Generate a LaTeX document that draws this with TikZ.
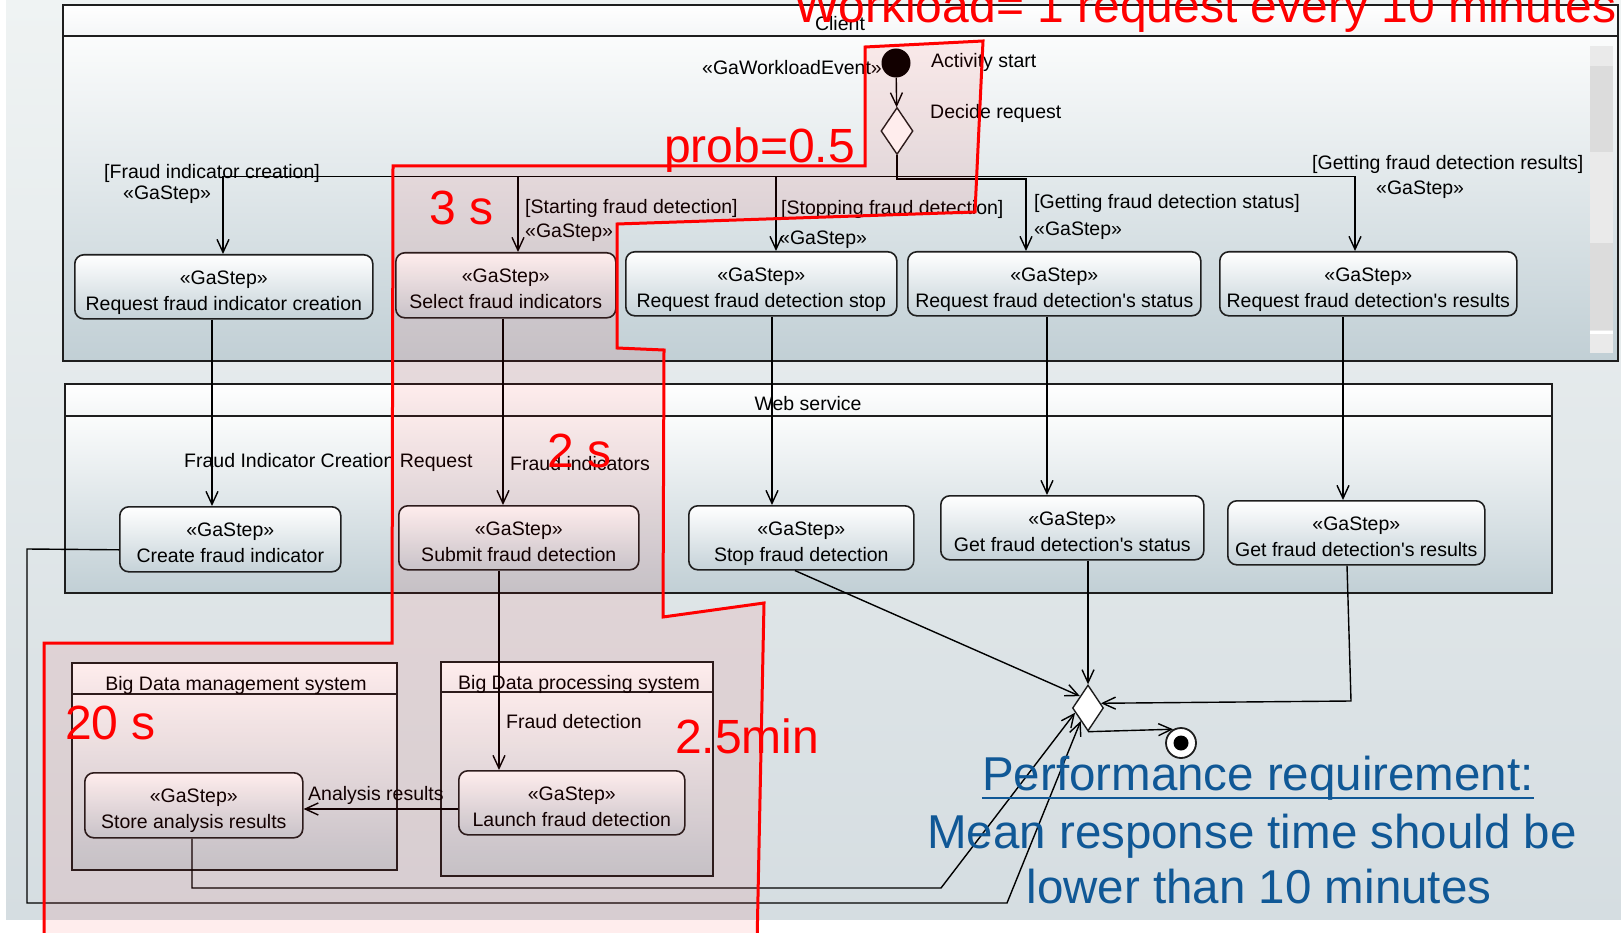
\documentclass[tikz,border=0pt]{standalone}
\usepackage{fontspec}
\setmainfont{Liberation Sans}[Ligatures=TeXOff]
\usetikzlibrary{arrows.meta,shapes.geometric,calc}

\definecolor{bgtop}{RGB}{239,243,243}
\definecolor{bgbot}{RGB}{213,221,225}
\definecolor{laneTop}{RGB}{251,252,252}
\definecolor{laneBot}{RGB}{193,207,213}
\definecolor{headBot}{RGB}{244,246,247}
\definecolor{boxBot}{RGB}{197,210,216}
\definecolor{edgeDark}{RGB}{30,30,30}
\definecolor{reqblue}{RGB}{16,88,150}
\definecolor{barA}{RGB}{234,234,234}
\definecolor{barB}{RGB}{220,220,220}

\tikzset{
  lbl/.style={inner sep=0pt, font=\fontsize{19.5}{23}\selectfont, text height=14pt, text depth=0pt},
  gbox/.style={draw=edgeDark, line width=1.6pt, rounded corners=9pt,
    top color=white, bottom color=boxBot, inner sep=0pt},
  lanehead/.style={draw=edgeDark, line width=1.6pt, top color=white, bottom color=headBot},
  lanebody/.style={draw=edgeDark, line width=1.6pt, top color=laneTop, bottom color=laneBot},
  conn/.style={draw=black, line width=1.4pt},
  arr/.style={conn, -{Straight Barb[length=13pt,width=12pt]}},
  bigred/.style={inner sep=0pt, text=red, font=\fontsize{48}{56}\selectfont},
  bigblue/.style={inner sep=0pt, text=reqblue, font=\fontsize{47.5}{56}\selectfont},
}

% an action box with the <<GaStep>> stereotype: name, left, top, right, bottom, title
\newcommand\gastepnode[6]{%
  \node[gbox, minimum width=#4-#2, minimum height=#5-#3, anchor=north west] (#1) at (#2,#3) {};
  \node[lbl] (#1-st) at ([yshift=-23.5pt]#1.north) {«GaStep»};
  \node[lbl] (#1-tx) at ([yshift=-49.5pt]#1.north) {#6};
}

\begin{document}
\begin{tikzpicture}[x=1pt,y=-1pt]
\useasboundingbox (0,0) rectangle (1621,933);
\clip (0,0) rectangle (1621,933);

% canvas
\fill[white] (0,0) rectangle (1621,933);
\shade[top color=bgtop, bottom color=bgbot] (6,0) rectangle (1621,919);

% partitions
\path[lanebody] (63,36) rectangle (1618,361);
\path[lanehead] (63,5) rectangle (1618,36);
\node[lbl] (clientlbl) at (840,24) {Client};

\fill[barA] (1590,46) rectangle (1613,353);
\fill[barB] (1590,66) rectangle (1613,152);
\fill[barB] (1590,243) rectangle (1613,330);
\fill[white] (1590,331) rectangle (1613,334);

\path[lanebody] (65,416) rectangle (1552,593);
\path[lanehead] (65,384) rectangle (1552,416);
\node[lbl] (weblbl) at (808,403) {Web service};

\path[lanebody] (72,694) rectangle (397,870);
\path[lanehead] (72,663) rectangle (397,694);
\node[lbl] (bdmlbl) at (236,683) {Big Data management system};

\path[lanebody] (441,692) rectangle (713,876);
\path[lanehead] (441,662) rectangle (713,692);
\node[lbl] (bdplbl) at (579,682) {Big Data processing system};

% initial node and decision
\node[circle, fill=black, minimum size=29pt, inner sep=0pt] (start) at (896,63) {};
\node[diamond, draw=edgeDark, fill=white, line width=1.4pt, minimum width=32pt, minimum height=47pt, inner sep=0pt] (dec) at (897,131) {};
\node[lbl, anchor=east] (wle) at (882,68) {«GaWorkloadEvent»};
\node[lbl, anchor=west] (actstart) at (931,61) {Activity start};
\node[lbl, anchor=west] (decreq) at (930,112) {Decide request};
\draw[arr] (start) -- (dec);

% client actions
\gastepnode{b1}{74}{254}{372}{318}{Request fraud indicator creation}
\gastepnode{b2}{395}{252}{615}{317}{Select fraud indicators}
\gastepnode{b3}{625}{251}{896}{315}{Request fraud detection stop}
\gastepnode{b4}{907}{251}{1200}{315}{Request fraud detection's status}
\gastepnode{b5}{1219}{251}{1516}{315}{Request fraud detection's results}

% web service actions
\gastepnode{w1}{119}{506}{340}{571}{Create fraud indicator}
\gastepnode{w2}{398}{505}{638}{569}{Submit fraud detection}
\gastepnode{w3}{688}{505}{913}{569}{Stop fraud detection}
\gastepnode{w4}{940}{495}{1203}{559}{Get fraud detection's status}
\gastepnode{w5}{1227}{500}{1484}{564}{Get fraud detection's results}

% big data actions
\gastepnode{st}{84}{772}{302}{837}{Store analysis results}
\gastepnode{la}{458}{770}{684}{834}{Launch fraud detection}

% merge and final nodes
\node[diamond, draw=edgeDark, fill=white, line width=1.4pt, minimum width=31pt, minimum height=46pt, inner sep=0pt] (merge) at (1088,708) {};
\node[circle, draw=edgeDark, fill=white, line width=1.8pt, minimum size=30pt, inner sep=0pt] (final) at (1181,743) {};
\node[circle, fill=black, minimum size=15pt, inner sep=0pt] (finaldot) at (final.center) {};

% guide coordinates for the orthogonal routes
\coordinate (fk) at (0,176.5);
\coordinate (fk2) at (0,179);
\coordinate (a1) at (223,0);
\coordinate (a2) at (518,0);
\coordinate (a3) at (776,0);
\coordinate (a4) at (1026,0);
\coordinate (a5) at (1355,0);
\coordinate (v1) at (212,0);
\coordinate (v2) at (503,0);
\coordinate (v3) at (772,0);
\coordinate (v4) at (1047,0);
\coordinate (v5) at (1343,0);
\coordinate (v6) at (499,0);
\coordinate (s3) at (795,0);
\coordinate (s5) at (1347,0);
\coordinate (sx) at (192,0);
\coordinate (ay) at (0,809);

% decision branches
\draw[arr] (dec.south) -- (dec.south |- fk) -| (b1.north -| a1);
\draw[arr] (dec.south) -- (dec.south |- fk) -| (b2.north -| a2);
\draw[arr] (dec.south) -- (dec.south |- fk) -| (b3.north -| a3);
\draw[arr] (dec.south) -- (dec.south |- fk2) -| (b4.north -| a4);
\draw[arr] (dec.south) -- (dec.south |- fk) -| (b5.north -| a5);
\draw[conn, line width=2.4pt] (dec.south) -- (dec.south |- fk);

% client to web service
\draw[arr] (b1.south -| v1) -- (w1.north -| v1);
\draw[arr] (b2.south -| v2) -- (w2.north -| v2);
\draw[arr] (b3.south -| v3) -- (w3.north -| v3);
\draw[arr] (b4.south -| v4) -- (w4.north -| v4);
\draw[arr] (b5.south -| v5) -- (w5.north -| v5);

% web service to big data
\draw[arr] (w2.south -| v6) -- (la.north -| v6);
\draw[arr] (la.west |- ay) -- (st.east |- ay);

% into the merge
\draw[arr] (w3.south -| s3) -- ($(merge.west)!0.5!(merge.north)$);
\draw[arr] (w4.south -| merge.north) -- (merge.north);
\draw[arr] (w5.south -| s5) -- (1351,701) -- ($(merge.east)!0.2!(merge.north)$);
\draw[arr] (st.south -| sx) -- (192,888) -- (941,888) -- ($(merge.west)!0.2!(merge.south)$);
\draw[arr] ([yshift=-10.5pt]w1.west) -- (27,549) -- (27,903) -- (1007,903) -- ($(merge.west)!0.55!(merge.south)$);
\draw[arr] (merge.south) -- (final.120);

% guards and flow labels
\node[lbl, anchor=west] (g1) at (104,172) {[Fraud indicator creation]};
\node[lbl, anchor=west] (g1s) at (123,193) {«GaStep»};
\node[lbl, anchor=west] (g2) at (525,207) {[Starting fraud detection]};
\node[lbl, anchor=west] (g2s) at (525,230) {«GaStep»};
\node[lbl, anchor=west] (g3) at (781,208) {[Stopping fraud detection]};
\node[lbl, anchor=west] (g3s) at (779,237) {«GaStep»};
\node[lbl, anchor=west] (g4) at (1034,202) {[Getting fraud detection status]};
\node[lbl, anchor=west] (g4s) at (1034,229) {«GaStep»};
\node[lbl, anchor=west] (g5) at (1312,163) {[Getting fraud detection results]};
\node[lbl, anchor=west] (g5s) at (1376,188) {«GaStep»};
\node[lbl, anchor=west] (f1) at (184,460) {Fraud Indicator Creation Request};
\node[lbl, anchor=west] (f2) at (510,463) {Fraud indicators};
\node[lbl, anchor=west] (f3) at (506,721) {Fraud detection};
\node[lbl, anchor=west] (f4) at (308,793) {Analysis results};

% highlighted response path
\path[draw=red, line width=3pt, fill=red, fill opacity=0.07, line join=miter]
  (44,945) -- (44,643) -- (392,643) -- (393,166) -- (865,166) -- (865,47)
  -- (983,41) -- (975,212) -- (617,224) -- (617,348) -- (664,350)
  -- (663,617) -- (764,603) -- (757,945) -- cycle;

% timing annotations
\node[bigred, anchor=base west] (wl) at (794,22.5) {Workload= 1 request every 10 minutes};
\node[bigred, anchor=base west] (prob) at (664,163) {prob=0.5};
\node[bigred, anchor=base west] (t3) at (429,225) {3 s};
\node[bigred, anchor=base west] (t2) at (547,467) {2 s};
\node[bigred, anchor=base west] (t20) at (65,739) {20 s};
\node[bigred, anchor=base west] (t25) at (675,753) {2.5min};

% requirement
\node[bigblue, anchor=base] (perf) at (1258,790) {Performance requirement:};
\draw[reqblue, line width=2.5pt] ([yshift=-8pt]perf.base west) -- ([yshift=-8pt]perf.base east);
\node[bigblue, anchor=base] (mean) at (1252,848) {Mean response time should be};
\node[bigblue, anchor=base] (lower) at (1259,903) {lower than 10 minutes};
\end{tikzpicture}
\end{document}
